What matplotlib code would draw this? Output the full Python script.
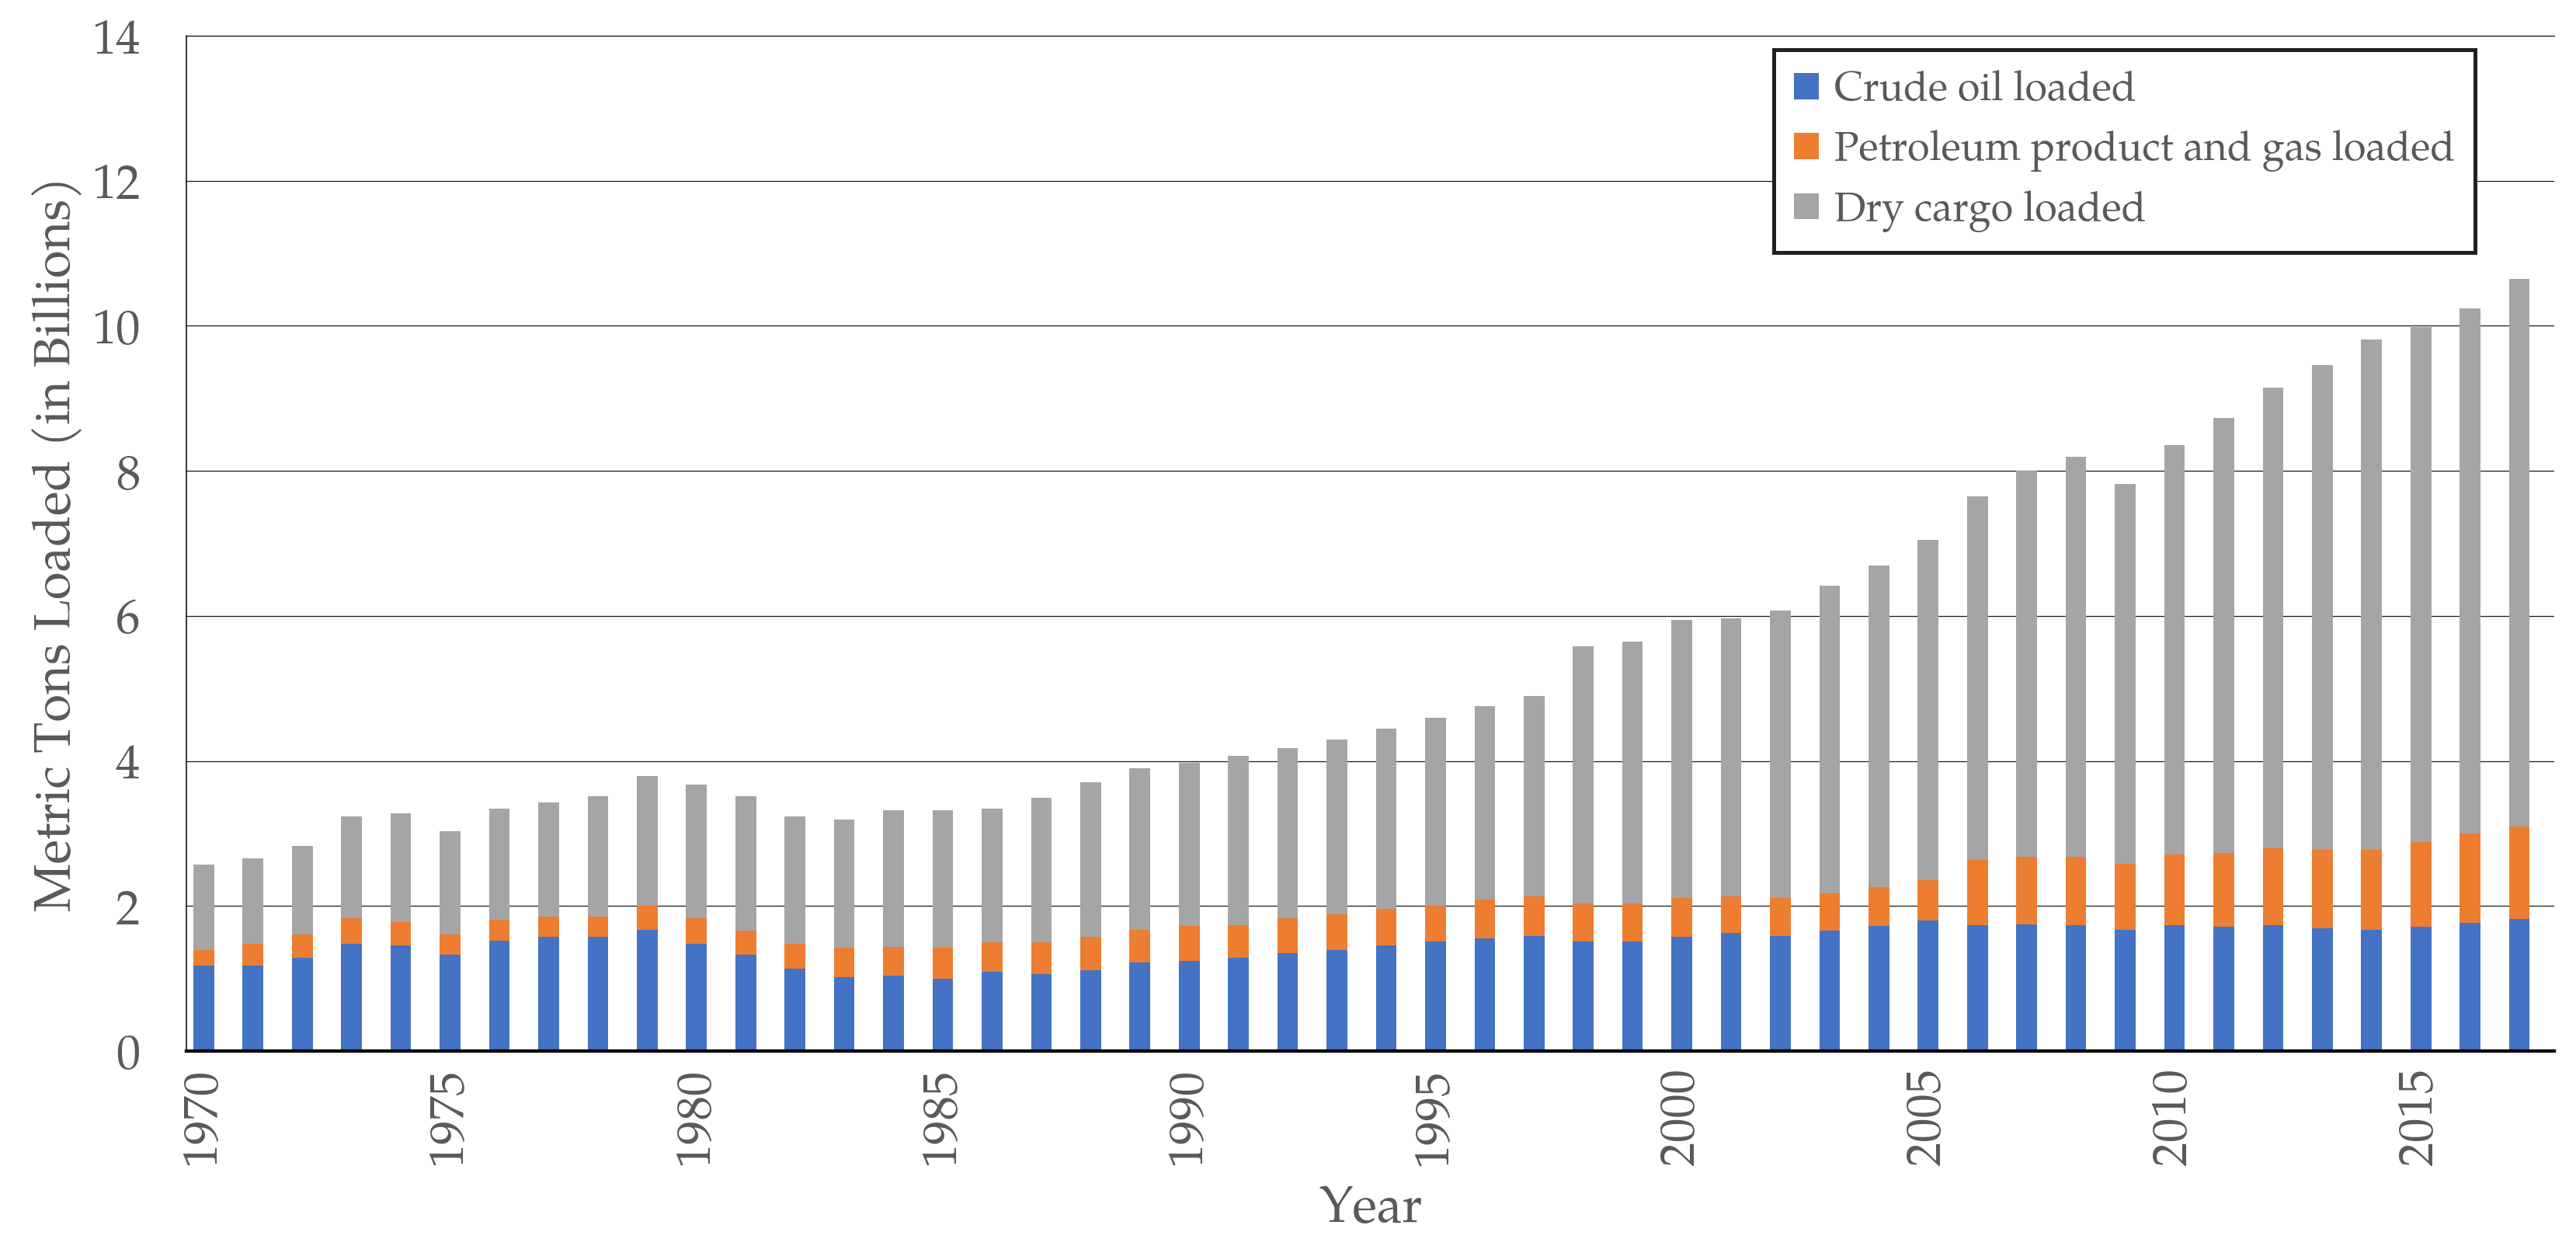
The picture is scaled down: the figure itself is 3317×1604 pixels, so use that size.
import numpy as np
import matplotlib
matplotlib.use("Agg")
import matplotlib.pyplot as plt
from matplotlib import font_manager

# ---------------- data (billions of metric tons) ----------------
years = list(range(1970, 2018))
crude_oil = [1.18, 1.18, 1.29, 1.48, 1.46, 1.33, 1.52, 1.57, 1.57, 1.67,
             1.48, 1.33, 1.13, 1.02, 1.04, 1.00, 1.09, 1.06, 1.11, 1.22,
             1.24, 1.29, 1.35, 1.39, 1.46, 1.51, 1.55, 1.59, 1.51, 1.51,
             1.57, 1.63, 1.59, 1.66, 1.72, 1.80, 1.73, 1.75, 1.73, 1.67,
             1.73, 1.71, 1.73, 1.69, 1.67, 1.71, 1.77, 1.82]
petroleum_gas = [0.21, 0.30, 0.32, 0.35, 0.32, 0.28, 0.29, 0.28, 0.28, 0.33,
                 0.35, 0.33, 0.35, 0.40, 0.40, 0.42, 0.41, 0.44, 0.46, 0.45,
                 0.48, 0.45, 0.48, 0.50, 0.50, 0.49, 0.54, 0.54, 0.53, 0.53,
                 0.54, 0.50, 0.52, 0.51, 0.54, 0.56, 0.91, 0.93, 0.95, 0.91,
                 0.98, 1.02, 1.07, 1.08, 1.10, 1.17, 1.23, 1.28]
dry_cargo = [1.18, 1.18, 1.22, 1.40, 1.50, 1.42, 1.53, 1.58, 1.66, 1.79,
             1.84, 1.85, 1.75, 1.77, 1.88, 1.90, 1.84, 1.99, 2.14, 2.23,
             2.25, 2.33, 2.35, 2.40, 2.48, 2.59, 2.67, 2.76, 3.54, 3.60,
             3.83, 3.84, 3.96, 4.25, 4.44, 4.69, 5.01, 5.32, 5.51, 5.24,
             5.65, 6.00, 6.35, 6.69, 7.04, 7.10, 7.24, 7.55]
series_names = ["Crude oil loaded", "Petroleum product and gas loaded", "Dry cargo loaded"]
series_colors = ["#4472C4", "#ED7D31", "#A5A5A5"]
tick_years = [1970, 1975, 1980, 1985, 1990, 1995, 2000, 2005, 2010, 2015]
y_ticks = [0, 2, 4, 6, 8, 10, 12, 14]

# ---------------- font ----------------
available = {f.name for f in font_manager.fontManager.ttflist}
family = "DejaVu Serif"
for cand in ["Palatino Linotype", "Book Antiqua", "TeX Gyre Pagella", "P052",
             "URW Palladio L", "Palatino", "Liberation Serif"]:
    if cand in available:
        family = cand
        break
plt.rcParams["font.family"] = [family, "DejaVu Serif"]

text_color = "#595959"

fig = plt.figure(figsize=(33.17, 16.04), dpi=100)
ax = fig.add_axes([0.0724, 0.1565, 0.9192, 0.8148])

x = np.arange(len(years))
crude = np.array(crude_oil)
petro = np.array(petroleum_gas)
dry = np.array(dry_cargo)
w = 0.42
ax.bar(x, crude, width=w, color=series_colors[0], label=series_names[0], zorder=2)
ax.bar(x, petro, width=w, bottom=crude, color=series_colors[1], label=series_names[1], zorder=2)
ax.bar(x, dry, width=w, bottom=crude + petro, color=series_colors[2], label=series_names[2], zorder=2)

ax.set_xlim(-0.35, len(years) - 1 + 0.71)
ax.set_ylim(0, 14)
ax.set_yticks(y_ticks)
ax.set_yticklabels([str(v) for v in y_ticks])
ax.set_xticks([years.index(yv) for yv in tick_years])
ax.set_xticklabels([str(yv) for yv in tick_years], rotation=90)

ax.yaxis.grid(True, color="#1a1a1a", linewidth=0.9, zorder=0)
ax.set_axisbelow(True)
ax.tick_params(axis="both", length=0, colors=text_color, labelsize=45)
ax.tick_params(axis="y", pad=43)
ax.tick_params(axis="x", pad=16)

ax.spines["right"].set_visible(False)
ax.spines["top"].set_linewidth(0.9)
ax.spines["top"].set_color("#1a1a1a")
ax.spines["left"].set_linewidth(1.1)
ax.spines["left"].set_color("#000000")
ax.spines["bottom"].set_linewidth(3.1)
ax.spines["bottom"].set_color("#000000")

ax.set_ylabel("Metric Tons Loaded (in Billions)", fontsize=47, color=text_color, va="center")
ax.yaxis.set_label_coords(-0.054, 0.5)
ax.set_xlabel("Year", fontsize=47, color=text_color, va="center")
ax.xaxis.set_label_coords(0.5, -0.157)

leg = ax.legend(loc="upper right", bbox_to_anchor=(0.9666, 0.9862), borderaxespad=0,
                fontsize=37.5, frameon=True, fancybox=False, framealpha=1,
                handlelength=0.62, handleheight=0.62, handletextpad=0.38,
                labelspacing=0.45, borderpad=0.5)
leg.get_frame().set_edgecolor("#231F20")
leg.get_frame().set_linewidth(3.6)
for t in leg.get_texts():
    t.set_color(text_color)

fig.savefig("out.png", dpi=100)
